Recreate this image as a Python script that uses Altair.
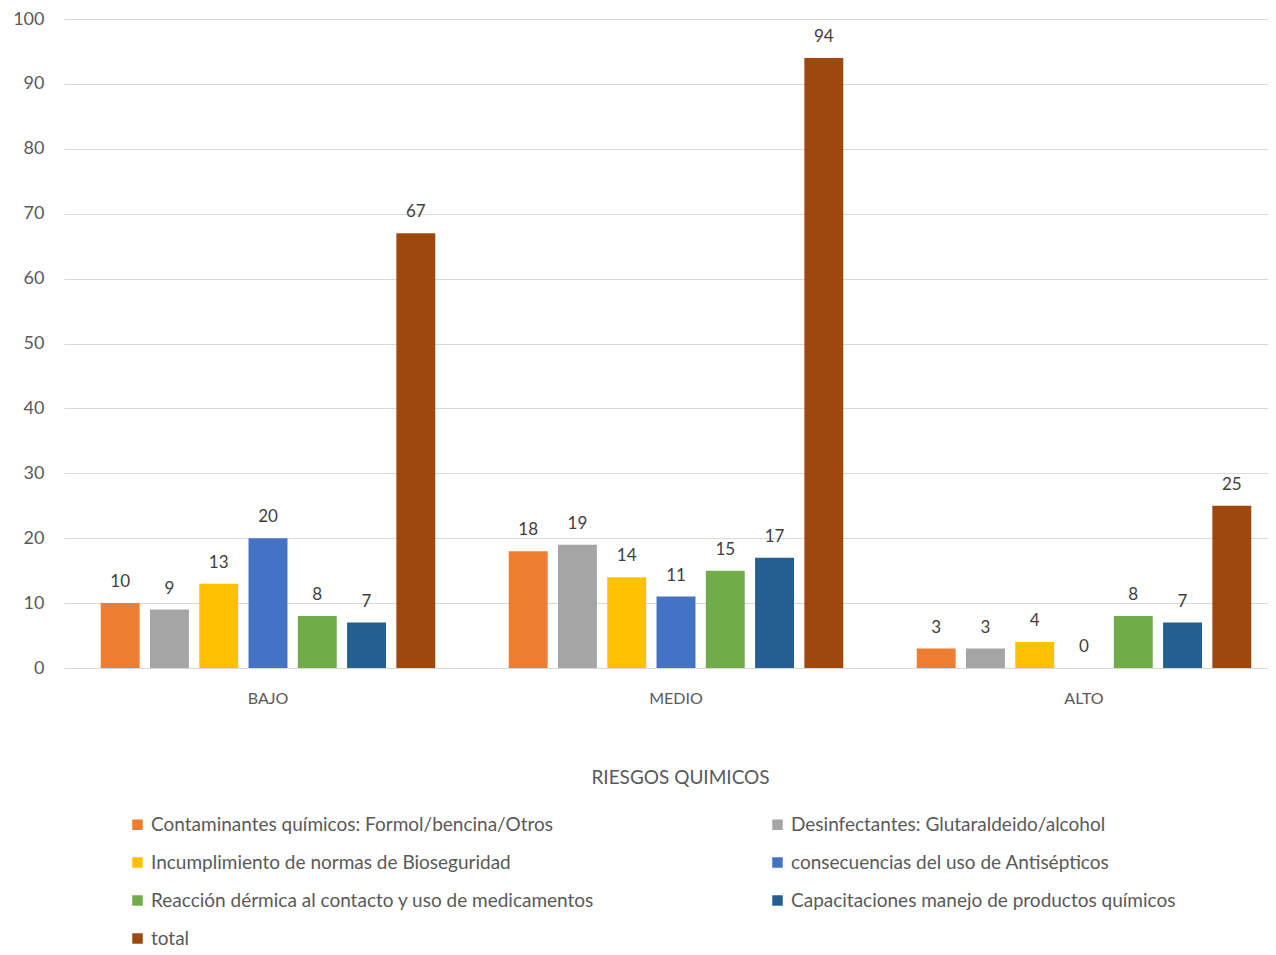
import altair as alt
import pandas as pd

categories = ["BAJO", "MEDIO", "ALTO"]
series = [
    "Contaminantes químicos: Formol/bencina/Otros",
    "Desinfectantes: Glutaraldeido/alcohol",
    "Incumplimiento de normas de Bioseguridad",
    "consecuencias del uso de Antisépticos",
    "Reacción dérmica al contacto y uso de medicamentos",
    "Capacitaciones manejo de productos químicos",
    "total",
]
colors = ["#ED7D31", "#A5A5A5", "#FFC000", "#4472C4", "#70AD47", "#255E91", "#9E480E"]
values = {
    series[0]: [10, 18, 3],
    series[1]: [9, 19, 3],
    series[2]: [13, 14, 4],
    series[3]: [20, 11, 0],
    series[4]: [8, 15, 8],
    series[5]: [7, 17, 7],
    series[6]: [67, 94, 25],
}

rows = []
for s in series:
    for c, v in zip(categories, values[s]):
        rows.append({"cat": c, "serie": s, "val": v})
df = pd.DataFrame(rows)

FONT = "Lato"

x = alt.X("cat:N", sort=categories, title="RIESGOS QUIMICOS",
          scale=alt.Scale(paddingInner=0.18, paddingOuter=0.09, range=[2, 1226]),
          axis=alt.Axis(labelAngle=0, ticks=False, domain=True, domainColor="#D9D9D9",
                        labelPadding=22, titlePadding=62, labelFontSize=16,
                        titleFontSize=19, titleFontWeight="normal", titleX=618,
                        labelColor="#595959", titleColor="#595959",
                        labelFont=FONT, titleFont=FONT))
xo = alt.XOffset("serie:N", sort=series, scale=alt.Scale(paddingInner=0.21))
y = alt.Y("val:Q", title=None, scale=alt.Scale(domain=[0, 100]),
          axis=alt.Axis(values=list(range(0, 101, 10)), ticks=False, domain=False,
                        gridColor="#D9D9D9", labelPadding=18, labelFontSize=18,
                        labelColor="#595959", labelFont=FONT))

base = alt.Chart(df)
bars = base.mark_bar().encode(
    x=x, xOffset=xo, y=y,
    color=alt.Color("serie:N", sort=series,
                    scale=alt.Scale(domain=series, range=colors),
                    legend=alt.Legend(title=None, orient="none", legendX=66, legendY=796,
                                      columns=2, columnPadding=173, rowPadding=18,
                                      symbolType="square", symbolSize=110,
                                      symbolStrokeWidth=0, labelFontSize=19,
                                      labelColor="#595959", labelFont=FONT,
                                      labelLimit=700, direction="horizontal")),
)
labels = base.mark_text(baseline="bottom", dy=-12, fontSize=17, color="#404040",
                        font=FONT).encode(
    x=x, xOffset=xo, y=y, text="val:Q"
)

chart = (bars + labels).properties(
    width=1206, height=649,
    autosize=alt.AutoSizeParams(type="none"),
    padding={"left": 54, "top": 11, "right": 0, "bottom": 282},
).configure_view(stroke=None).configure_axis(gridWidth=1)

chart.save("out.html", embed_options={"renderer": "svg", "actions": False})
